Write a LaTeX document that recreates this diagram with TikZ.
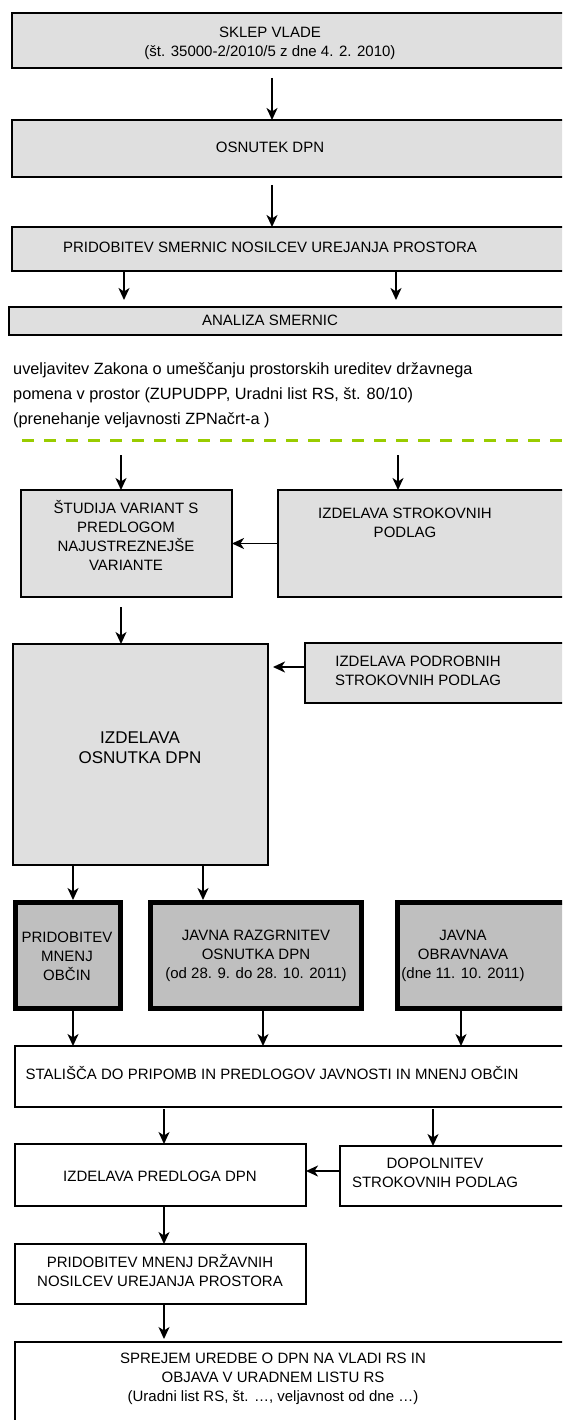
\documentclass[tikz,border=0pt]{standalone}
\usepackage{fontspec}
\setmainfont{Liberation Sans}
\usetikzlibrary{arrows.meta}
\definecolor{dashgreen}{RGB}{153,204,0}
\begin{document}
\begin{tikzpicture}[x=1pt,y=-1pt]
        \tikzstyle{box}=[draw,fill=gray!25,line width=1.8pt,inner sep=0pt,outer sep=0pt]
        \tikzstyle{thickbox}=[box,fill=gray!50,line width=5pt]
        \tikzstyle{whitebox}=[box,fill=white]
        \tikzstyle{txt}=[align=center,inner sep=0pt,font=\fontsize{15}{19}\selectfont]
        \tikzstyle{arr}=[-{Stealth[length=12pt,width=11pt,inset=3.5pt]},line width=1.8pt]
        \useasboundingbox (0,0) rectangle (562,1420);
        \clip (0,0) rectangle (562,1420);
        \node[box,minimum width=588pt,minimum height=55pt] (sklep) at (306,40.5) {};
        \node[txt] (sklept) at (270,43) {SKLEP VLADE\\(št. 35000-2/2010/5 z dne 4. 2. 2010)};
        \node[box,minimum width=588pt,minimum height=57pt] (osn) at (306,148.5) {};
        \node[txt] (osnt) at (270,147) {OSNUTEK DPN};
        \node[box,minimum width=588pt,minimum height=44pt] (smer) at (306,249) {};
        \node[txt] (smert) at (270,247) {PRIDOBITEV SMERNIC NOSILCEV UREJANJA PROSTORA};
        \node[box,minimum width=591pt,minimum height=28pt] (anal) at (304.5,321) {};
        \node[txt] (analt) at (270,320) {ANALIZA SMERNIC};
        \draw[arr,shorten <=10pt] ([xshift=260pt]sklep.south west) -- ([xshift=260pt]osn.north west);
        \draw[arr,shorten <=8pt] ([xshift=260pt]osn.south west) -- ([xshift=260pt]smer.north west);
        \draw[arr,shorten >=7pt] ([xshift=112pt]smer.south west) -- ([xshift=115pt]anal.north west);
        \draw[arr,shorten >=7pt] ([xshift=384pt]smer.south west) -- ([xshift=387pt]anal.north west);
        \node[anchor=north west,align=left,inner sep=0pt,font=\fontsize{16.3}{25}\selectfont] (zakon) at (13,362)
            {uveljavitev Zakona o umeščanju prostorskih ureditev državnega\\pomena v prostor (ZUPUDPP, Uradni list RS, št. 80/10)\\(prenehanje veljavnosti ZPNačrt-a )};
        \draw[dashgreen,line width=3pt,dash pattern=on 12pt off 10pt] (22,440) -- (575,440);
        \coordinate (za) at (121,455);
        \coordinate (zb) at (398,455);
        \node[box,minimum width=211pt,minimum height=107pt] (stud) at (126.5,543.5) {};
        \node[txt] (studt) at (126,535.5) {ŠTUDIJA VARIANT S\\PREDLOGOM\\NAJUSTREZNEJŠE\\VARIANTE};
        \node[box,minimum width=322pt,minimum height=107pt] (strok) at (439,543.5) {};
        \node[txt] (strokt) at (405,523) {IZDELAVA STROKOVNIH\\PODLAG};
        \draw[arr] (za) -- (za |- stud.north);
        \draw[arr] (zb) -- (zb |- strok.north);
        \draw[arr] (strok.west) -- (stud.east);
        \node[box,minimum width=255pt,minimum height=221pt] (izd) at (140.5,754.5) {};
        \node[txt,font=\fontsize{17}{20}\selectfont] (izdt) at (140,748) {IZDELAVA\\OSNUTKA DPN};
        \node[box,minimum width=295pt,minimum height=60pt] (podr) at (452.5,673) {};
        \node[txt] (podrt) at (418,671) {IZDELAVA PODROBNIH\\STROKOVNIH PODLAG};
        \draw[arr,shorten <=10pt] ([xshift=100pt]stud.south west) -- ([xshift=108pt]izd.north west);
        \draw[arr,shorten >=5pt] ([yshift=6pt]podr.west) -- ([yshift=87.5pt]izd.east);
        \node[thickbox,minimum width=105pt,minimum height=106pt] (pmo) at (68,955.5) {};
        \node[txt] (pmot) at (67,956) {PRIDOBITEV\\MNENJ\\OBČIN};
        \node[thickbox,minimum width=211pt,minimum height=106pt] (jr) at (256,955.5) {};
        \node[txt] (jrt) at (256,956) {JAVNA RAZGRNITEV\\OSNUTKA DPN\\(od 28. 9. do 28. 10. 2011)};
        \node[thickbox,minimum width=212pt,minimum height=106pt] (jo) at (503.5,955.5) {};
        \node[txt] (jot) at (463,956) {JAVNA\\OBRAVNAVA\\(dne 11. 10. 2011)};
        \draw[arr,shorten >=2.5pt] ([xshift=60pt]izd.south west) -- ([xshift=57.5pt]pmo.north west);
        \draw[arr,shorten >=2.5pt] ([xshift=190pt]izd.south west) -- ([xshift=52.5pt]jr.north west);
        \node[whitebox,minimum width=585pt,minimum height=61pt] (stal) at (307.5,1076.5) {};
        \node[txt] (stalt) at (272,1073) {STALIŠČA DO PRIPOMB IN PREDLOGOV JAVNOSTI IN MNENJ OBČIN};
        \draw[arr,shorten <=2.5pt] ([xshift=57.5pt]pmo.south west) -- ([xshift=58pt]stal.north west);
        \draw[arr,shorten <=2.5pt] ([xshift=112.5pt]jr.south west) -- ([xshift=248pt]stal.north west);
        \draw[arr,shorten <=2.5pt] ([xshift=63.5pt]jo.south west) -- ([xshift=446pt]stal.north west);
        \node[whitebox,minimum width=291pt,minimum height=62pt] (pred) at (160.5,1175) {};
        \node[txt] (predt) at (160,1176) {IZDELAVA PREDLOGA DPN};
        \node[whitebox,minimum width=260pt,minimum height=60pt] (dop) at (470,1176) {};
        \node[txt] (dopt) at (435,1172.5) {DOPOLNITEV\\STROKOVNIH PODLAG};
        \draw[arr,shorten <=2pt] ([xshift=149pt]stal.south west) -- ([xshift=149pt]pred.north west);
        \draw[arr,shorten <=2pt] ([xshift=418pt]stal.south west) -- ([xshift=93pt]dop.north west);
        \draw[arr] ([yshift=5pt]dop.west) -- ([yshift=4pt]pred.east);
        \node[whitebox,minimum width=291pt,minimum height=60pt] (drz) at (160.5,1274) {};
        \node[txt] (drzt) at (160,1271) {PRIDOBITEV MNENJ DRŽAVNIH\\NOSILCEV UREJANJA PROSTORA};
        \draw[arr] ([xshift=149pt]pred.south west) -- ([xshift=149pt]drz.north west);
        \node[whitebox,minimum width=585pt,minimum height=118pt] (sprej) at (307.5,1401) {};
        \node[txt] (sprejt) at (273,1379) {SPREJEM UREDBE O DPN NA VLADI RS IN\\OBJAVA V URADNEM LISTU RS\\(Uradni list RS, št. …, veljavnost od dne …)};
        \draw[arr,shorten >=3pt] ([xshift=149pt]drz.south west) -- ([xshift=149pt]sprej.north west);
\end{tikzpicture}
\end{document}
